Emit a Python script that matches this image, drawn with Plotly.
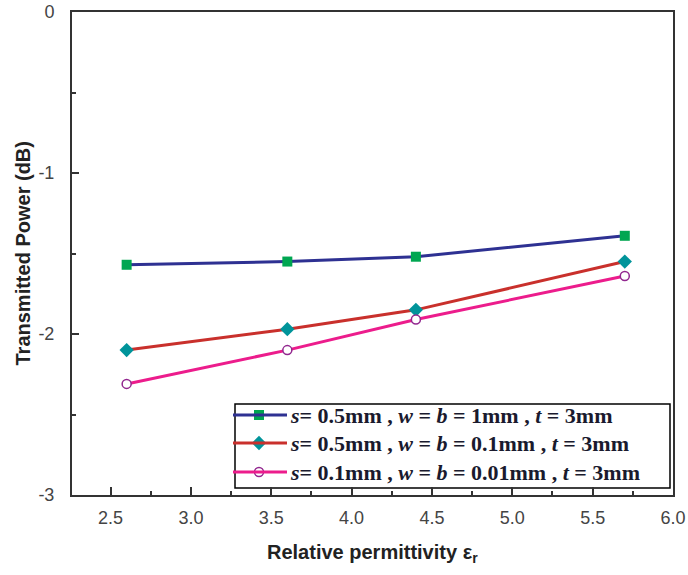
import plotly.graph_objects as go

# ---- data ----
x_vals = [2.6, 3.6, 4.4, 5.7]
blue_vals = [-1.57, -1.55, -1.52, -1.39]
red_vals = [-2.10, -1.97, -1.85, -1.55]
pink_vals = [-2.31, -2.10, -1.91, -1.64]

names = [
    "<b><i>s</i>= 0.5mm , <i>w</i> = <i>b</i> = 1mm , <i>t</i> = 3mm</b>",
    "<b><i>s</i>= 0.5mm , <i>w</i> = <i>b</i> = 0.1mm , <i>t</i> = 3mm</b>",
    "<b><i>s</i>= 0.1mm , <i>w</i> = <i>b</i> = 0.01mm , <i>t</i> = 3mm</b>",
]

x_ticks = [2.5, 3.0, 3.5, 4.0, 4.5, 5.0, 5.5, 6.0]
y_ticks = [0, -1, -2, -3]

# ---- figure geometry (pixels) ----
W, H = 688, 575
L, R, T, B = 72, 15, 12, 80
PW, PH = W - L - R, H - T - B


def px_x(p):
    return (p - L) / PW


def px_y(p):
    return (H - B - p) / PH


styles = [
    dict(line=dict(color="#2e3192", width=3),
         marker=dict(symbol="square", size=10, color="#00a651", line=dict(width=0))),
    dict(line=dict(color="#c9302c", width=3),
         marker=dict(symbol="diamond", size=11, color="#00949a", line=dict(width=0))),
    dict(line=dict(color="#ec1c8c", width=3),
         marker=dict(symbol="circle", size=9, color="white", line=dict(color="#92278f", width=1.5))),
]

fig = go.Figure()
for vals, name, st in zip([blue_vals, red_vals, pink_vals], names, styles):
    fig.add_trace(go.Scatter(x=x_vals, y=vals, name=name, mode="lines+markers",
                             showlegend=False, **st))

# ---- manual legend ----
shapes = [dict(type="rect", xref="paper", yref="paper",
               x0=px_x(235), x1=px_x(670), y0=px_y(488), y1=px_y(404),
               line=dict(color="black", width=1.5), fillcolor="white", layer="below")]
annotations = []
row_y = [415, 443, 472]
for name, st, ry in zip(names, styles, row_y):
    yy = px_y(ry)
    shapes.append(dict(type="line", xref="paper", yref="paper",
                       x0=px_x(233), x1=px_x(287), y0=yy, y1=yy,
                       line=dict(color=st["line"]["color"], width=3), layer="above"))
    fig.add_trace(go.Scatter(x=[px_x(259)], y=[yy], mode="markers", xaxis="x2", yaxis="y2",
                             marker=st["marker"], showlegend=False, hoverinfo="skip"))
    annotations.append(dict(text=name, xref="paper", yref="paper", x=px_x(288), y=yy,
                            xanchor="left", yanchor="middle", showarrow=False,
                            font=dict(family="Liberation Serif", size=22, color="#1a1a2e")))

annotations.append(dict(text="<b>Relative permittivity ε<sub>r</sub></b>", xref="paper", yref="paper",
                        x=0.5, y=px_y(553), xanchor="center", yanchor="middle", showarrow=False,
                        font=dict(family="Liberation Sans", size=20, color="#222")))
annotations.append(dict(text="<b>Transmitted Power (dB)</b>", xref="paper", yref="paper",
                        x=px_x(22), y=0.5, xanchor="center", yanchor="middle", showarrow=False,
                        textangle=-90,
                        font=dict(family="Liberation Sans", size=20, color="#222")))

fig.update_layout(
    width=W, height=H,
    margin=dict(l=L, r=R, t=T, b=B, autoexpand=False),
    paper_bgcolor="white", plot_bgcolor="white",
    showlegend=False, hovermode=False,
    shapes=shapes, annotations=annotations,
    xaxis2=dict(overlaying="x", range=[0, 1], visible=False),
    yaxis2=dict(overlaying="y", range=[0, 1], visible=False),
)
fig.update_layout(xaxis=dict(
    range=[2.26, 6.0], tickvals=x_ticks, ticktext=[f"{v:.1f}" for v in x_ticks],
    ticks="inside", ticklen=8, tickwidth=1.5, tickcolor="#333",
    minor=dict(dtick=0.25, tick0=2.5, ticks="inside", ticklen=4, tickwidth=1.5, tickcolor="#333"),
    showline=True, linecolor="#333", linewidth=2, mirror=True,
    showgrid=False, zeroline=False, automargin=False,
    ticklabelstandoff=5,
    tickfont=dict(family="Liberation Sans", size=18, color="#444"),
))
fig.update_layout(yaxis=dict(
    range=[-3, 0], tickvals=y_ticks, ticktext=[str(v) for v in y_ticks],
    ticks="inside", ticklen=7, tickwidth=1.5, tickcolor="#333",
    minor=dict(dtick=0.5, tick0=0, ticks="inside", ticklen=4, tickwidth=1.5, tickcolor="#333"),
    showline=True, linecolor="#333", linewidth=2, mirror=True,
    showgrid=False, zeroline=False, automargin=False,
    ticklabelstandoff=12,
    tickfont=dict(family="Liberation Sans", size=18, color="#444"),
))

fig.write_html("out.html", config={"displayModeBar": False},
               post_script="document.body.style.margin='0px';document.body.style.overflow='hidden';")
